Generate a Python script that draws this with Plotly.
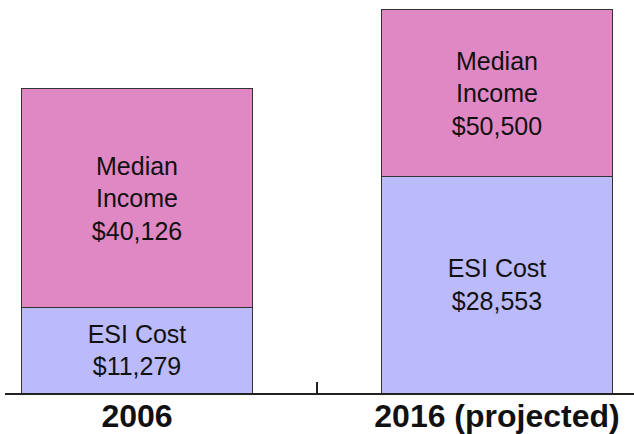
import plotly.graph_objects as go

categories = ["2006", "2016 (projected)"]
esi_cost = [11279, 28553]
median_income = [40126, 50500]

esi_color = "#BBBBFB"
income_color = "#E088C4"

income_rest = [inc - esi for inc, esi in zip(median_income, esi_cost)]
esi_text = [f"ESI Cost<br>${v:,}" for v in esi_cost]
income_text = [f"Median<br>Income<br>${v:,}" for v in median_income]

font_family = "Liberation Sans, Arial, sans-serif"

fig = go.Figure()
fig.add_trace(go.Bar(
    x=categories, y=esi_cost, text=esi_text, textposition="inside",
    insidetextanchor="middle", textangle=0, constraintext="none",
    textfont=dict(family=font_family, size=25, color="#111111"),
    marker=dict(color=esi_color, line=dict(color="#333333", width=1)),
    hoverinfo="skip", showlegend=False,
))
fig.add_trace(go.Bar(
    x=categories, y=income_rest, text=income_text, textposition="inside",
    insidetextanchor="middle", textangle=0, constraintext="none",
    textfont=dict(family=font_family, size=25, color="#111111"),
    marker=dict(color=income_color, line=dict(color="#333333", width=1)),
    hoverinfo="skip", showlegend=False,
))

fig.update_layout(
    barmode="stack",
    bargap=0.361,
    width=634, height=434,
    margin=dict(l=5, r=0, t=0, b=39),
    paper_bgcolor="white", plot_bgcolor="white",
    uniformtext=dict(mode=False),
)
fig.update_xaxes(
    type="category",
    range=[-0.3667, 1.3806],
    tickson="boundaries",
    ticks="inside", ticklen=11, tickwidth=2, tickcolor="#222222",
    showline=True, linecolor="#222222", linewidth=2,
    showgrid=False, zeroline=False,
    ticklabelstandoff=-6,
    tickfont=dict(family=font_family, size=32, color="#111111", weight="bold"),
)
fig.update_yaxes(
    range=[0, 51812], visible=False, showgrid=False, zeroline=False,
)

fig.write_html("out.html", config={"displayModeBar": False},
               post_script="document.body.style.margin='0';")
